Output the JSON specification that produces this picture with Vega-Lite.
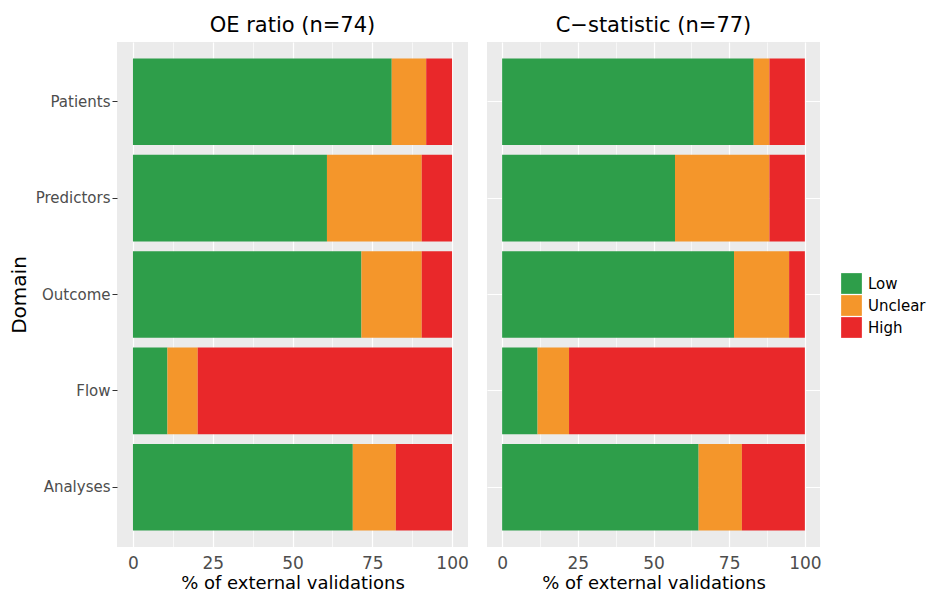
{
  "$schema": "https://vega.github.io/schema/vega-lite/v6.json",
  "padding": {"left": 9, "top": 15, "right": 5, "bottom": 0},
  "data": {
    "values": [
      {"measure": "OE", "domain": "Patients", "risk": "Low", "pct": 81.1},
      {"measure": "OE", "domain": "Patients", "risk": "Unclear", "pct": 10.8},
      {"measure": "OE", "domain": "Patients", "risk": "High", "pct": 8.1},
      {"measure": "OE", "domain": "Predictors", "risk": "Low", "pct": 60.8},
      {"measure": "OE", "domain": "Predictors", "risk": "Unclear", "pct": 29.7},
      {"measure": "OE", "domain": "Predictors", "risk": "High", "pct": 9.5},
      {"measure": "OE", "domain": "Outcome", "risk": "Low", "pct": 71.6},
      {"measure": "OE", "domain": "Outcome", "risk": "Unclear", "pct": 18.9},
      {"measure": "OE", "domain": "Outcome", "risk": "High", "pct": 9.5},
      {"measure": "OE", "domain": "Flow", "risk": "Low", "pct": 10.8},
      {"measure": "OE", "domain": "Flow", "risk": "Unclear", "pct": 9.5},
      {"measure": "OE", "domain": "Flow", "risk": "High", "pct": 79.7},
      {"measure": "OE", "domain": "Analyses", "risk": "Low", "pct": 68.9},
      {"measure": "OE", "domain": "Analyses", "risk": "Unclear", "pct": 13.5},
      {"measure": "OE", "domain": "Analyses", "risk": "High", "pct": 17.6},
      {"measure": "C", "domain": "Patients", "risk": "Low", "pct": 83.1},
      {"measure": "C", "domain": "Patients", "risk": "Unclear", "pct": 5.2},
      {"measure": "C", "domain": "Patients", "risk": "High", "pct": 11.7},
      {"measure": "C", "domain": "Predictors", "risk": "Low", "pct": 57.1},
      {"measure": "C", "domain": "Predictors", "risk": "Unclear", "pct": 31.2},
      {"measure": "C", "domain": "Predictors", "risk": "High", "pct": 11.7},
      {"measure": "C", "domain": "Outcome", "risk": "Low", "pct": 76.6},
      {"measure": "C", "domain": "Outcome", "risk": "Unclear", "pct": 18.2},
      {"measure": "C", "domain": "Outcome", "risk": "High", "pct": 5.2},
      {"measure": "C", "domain": "Flow", "risk": "Low", "pct": 11.7},
      {"measure": "C", "domain": "Flow", "risk": "Unclear", "pct": 10.4},
      {"measure": "C", "domain": "Flow", "risk": "High", "pct": 77.9},
      {"measure": "C", "domain": "Analyses", "risk": "Low", "pct": 64.9},
      {"measure": "C", "domain": "Analyses", "risk": "Unclear", "pct": 14.3},
      {"measure": "C", "domain": "Analyses", "risk": "High", "pct": 20.8}
    ]
  },
  "transform": [
    {"calculate": "indexof(['Low','Unclear','High'], datum.risk)", "as": "ord"}
  ],
  "spacing": 18,
  "hconcat": [
    {
      "title": "OE ratio (n=74)",
      "width": 351,
      "height": 505,
      "transform": [{"filter": "datum.measure === 'OE'"}],
      "mark": {"type": "bar"},
      "encoding": {
        "y": {
          "field": "domain",
          "type": "nominal",
          "sort": ["Patients", "Predictors", "Outcome", "Flow", "Analyses"],
          "scale": {"paddingInner": 0.1, "paddingOuter": 0.17},
          "title": "Domain",
          "axis": {"titlePadding": 6}
        },
        "x": {
          "field": "pct",
          "type": "quantitative",
          "stack": "zero",
          "scale": {"domain": [-5, 105], "nice": false, "zero": false},
          "title": "% of external validations",
          "axis": {"values": [0, 12.5, 25, 37.5, 50, 62.5, 75, 87.5, 100], "labelOverlap": false}
        },
        "color": {
          "field": "risk",
          "type": "nominal",
          "scale": {"domain": ["Low", "Unclear", "High"], "range": ["#2e9e4a", "#f4962b", "#e9282a"]},
          "legend": {"title": null}
        },
        "order": {"field": "ord", "type": "quantitative"}
      }
    },
    {
      "title": "C\u2212statistic (n=77)",
      "width": 333,
      "height": 505,
      "transform": [{"filter": "datum.measure === 'C'"}],
      "mark": {"type": "bar"},
      "encoding": {
        "y": {
          "field": "domain",
          "type": "nominal",
          "sort": ["Patients", "Predictors", "Outcome", "Flow", "Analyses"],
          "scale": {"paddingInner": 0.1, "paddingOuter": 0.17},
          "axis": {"labels": false, "ticks": false, "title": null, "grid": true}
        },
        "x": {
          "field": "pct",
          "type": "quantitative",
          "stack": "zero",
          "scale": {"domain": [-5, 105], "nice": false, "zero": false},
          "title": "% of external validations",
          "axis": {"values": [0, 12.5, 25, 37.5, 50, 62.5, 75, 87.5, 100], "labelOverlap": false}
        },
        "color": {
          "field": "risk",
          "type": "nominal",
          "scale": {"domain": ["Low", "Unclear", "High"], "range": ["#2e9e4a", "#f4962b", "#e9282a"]},
          "legend": {"title": null}
        },
        "order": {"field": "ord", "type": "quantitative"}
      }
    }
  ],
  "resolve": {"scale": {"color": "shared", "y": "independent"}},
  "config": {
    "font": "DejaVu Sans",
    "view": {"fill": "#EBEBEB", "stroke": null},
    "title": {"fontSize": 21, "fontWeight": "normal", "color": "#000000", "offset": 6, "anchor": "middle"},
    "axis": {
      "domain": false,
      "gridColor": "#FFFFFF",
      "tickColor": "#333333",
      "labelColor": "#4D4D4D",
      "titleColor": "#000000",
      "titleFontWeight": "normal"
    },
    "axisX": {
      "labelExpr": "datum.value % 25 === 0 ? datum.label : ''",
      "labelOverlap": false,
      "gridWidth": {"condition": {"test": "datum.value % 25 === 0", "value": 1.2}, "value": 0.6},
      "tickOpacity": {"condition": {"test": "datum.value % 25 === 0", "value": 1}, "value": 0},
      "tickSize": 4,
      "labelFontSize": 17,
      "labelPadding": 4,
      "titleFontSize": 18,
      "titlePadding": 3
    },
    "axisY": {
      "gridWidth": 1.2,
      "tickSize": 5,
      "labelFontSize": 15,
      "labelPadding": 2,
      "titleFontSize": 20
    },
    "legend": {
      "orient": "none",
      "legendX": 724,
      "legendY": 231,
      "symbolType": "square",
      "symbolSize": 430,
      "symbolStrokeWidth": 0,
      "labelFontSize": 15,
      "labelColor": "#000000",
      "rowPadding": 1,
      "labelOffset": 6
    }
  }
}
